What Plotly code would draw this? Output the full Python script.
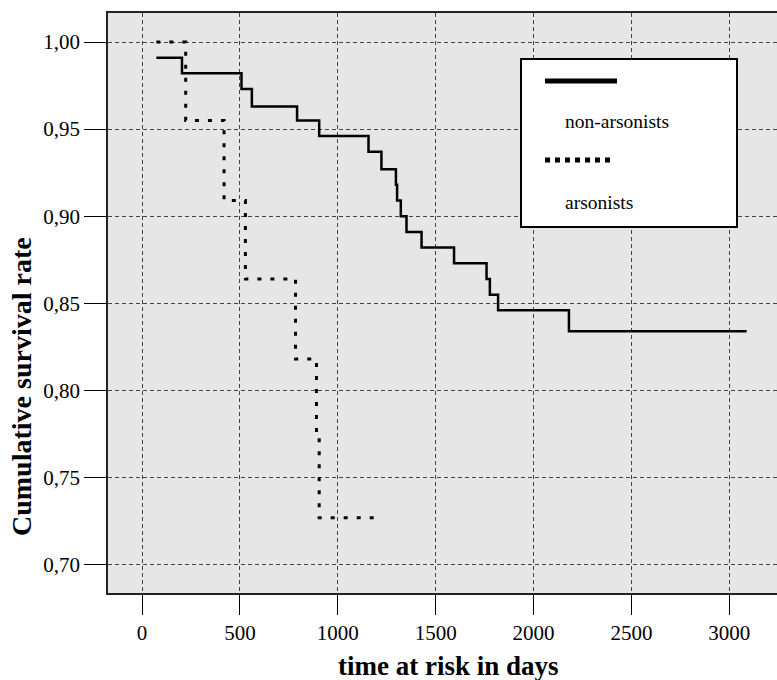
import plotly.graph_objects as go

# ---- data ----
nonars_days = [73, 204, 508, 561, 792, 905, 1157, 1223, 1297, 1303, 1322, 1351,
               1428, 1594, 1760, 1777, 1819, 2181, 3089]
nonars_surv = [0.991, 0.982, 0.973, 0.963, 0.955, 0.946, 0.937, 0.927, 0.918, 0.909,
               0.900, 0.891, 0.882, 0.873, 0.864, 0.855, 0.846, 0.834, 0.834]

ars_days = [73, 223, 419, 528, 784, 891, 905, 1191]
ars_surv = [1.000, 0.955, 0.909, 0.864, 0.818, 0.773, 0.727, 0.727]

series_names = ["non-arsonists", "arsonists"]

x_tickvals = [0, 500, 1000, 1500, 2000, 2500, 3000]
x_ticktext = ["0", "500", "1000", "1500", "2000", "2500", "3000"]
y_tickvals = [0.70, 0.75, 0.80, 0.85, 0.90, 0.95, 1.00]
y_ticktext = ["0,70", "0,75", "0,80", "0,85", "0,90", "0,95", "1,00"]

x_title = "time at risk in days"
y_title = "Cumulative survival rate"

# ---- layout geometry (page pixels; body margin removed below) ----
W, H = 777, 680
PL, PT, PR, PB = 108, 13, 777, 593          # plot area in pixels
ML, MT, MR, MB = PL, PT, W - PR, H - PB
PW, PH = PR - PL, PB - PT
FONT = "Liberation Serif"


def px(x):
    return (x - PL) / PW


def py(y):
    return (PB - y) / PH


fig = go.Figure()
fig.add_trace(go.Scatter(x=nonars_days, y=nonars_surv, mode="lines", line_shape="hv",
                         name=series_names[0], line=dict(color="black", width=2.5)))
fig.add_trace(go.Scatter(x=ars_days, y=ars_surv, mode="lines", line_shape="hv",
                         name=series_names[1],
                         line=dict(color="black", width=3, dash="4px,9px")))

# custom legend box (sample line above text, as in the reference)
shapes = [
    dict(type="rect", xref="paper", yref="paper", x0=px(521), x1=px(737), y0=py(227), y1=py(59),
         fillcolor="white", line=dict(color="black", width=2), layer="above"),
    dict(type="line", xref="paper", yref="paper", x0=px(545), x1=px(617), y0=py(81), y1=py(81),
         line=dict(color="black", width=5), layer="above"),
    dict(type="line", xref="paper", yref="paper", x0=px(545), x1=px(615), y0=py(160), y1=py(160),
         line=dict(color="black", width=5, dash="5px,5px"), layer="above"),
]
annotations = [
    dict(text=series_names[0], xref="paper", yref="paper", x=px(563), y=py(122),
         xanchor="left", yanchor="middle", showarrow=False,
         font=dict(family=FONT, size=19.5, color="black")),
    dict(text=series_names[1], xref="paper", yref="paper", x=px(563), y=py(202),
         xanchor="left", yanchor="middle", showarrow=False,
         font=dict(family=FONT, size=19.5, color="black")),
    dict(text="<b>" + y_title + "</b>", xref="paper", yref="paper", x=px(21), y=py(387),
         xanchor="center", yanchor="middle", textangle=-90, showarrow=False,
         font=dict(family=FONT, size=28, color="black")),
    dict(text="<b>" + x_title + "</b>", xref="paper", yref="paper", x=px(448), y=py(666),
         xanchor="center", yanchor="middle", showarrow=False,
         font=dict(family=FONT, size=27, color="black")),
]

fig.update_layout(
    width=W, height=H, autosize=False,
    margin=dict(l=ML, r=MR, t=MT, b=MB, pad=0),
    paper_bgcolor="white", plot_bgcolor="#e6e6e6",
    showlegend=False,
    font=dict(family=FONT, color="black"),
    shapes=shapes, annotations=annotations,
)
fig.update_xaxes(
    range=[-174, 3244], tickvals=x_tickvals, ticktext=x_ticktext,
    ticks="outside", ticklen=20, tickwidth=1, tickcolor="black",
    tickfont=dict(family=FONT, size=21, color="black"),
    showgrid=True, gridcolor="#444444", gridwidth=1, griddash="4px,3px",
    showline=True, linecolor="#222222", linewidth=1.5, mirror=True,
    zeroline=False,
)
fig.update_yaxes(
    range=[0.68375, 1.01665], tickvals=y_tickvals, ticktext=y_ticktext,
    ticks="outside", ticklen=22, tickwidth=1, tickcolor="black",
    tickfont=dict(family=FONT, size=21, color="black"),
    showgrid=True, gridcolor="#444444", gridwidth=1, griddash="4px,3px",
    showline=True, linecolor="#222222", linewidth=1.5, mirror=False,
    zeroline=False,
)

fig.write_html("out.html", config={"displayModeBar": False},
               post_script="document.body.style.margin='0';document.body.style.overflow='hidden';")
